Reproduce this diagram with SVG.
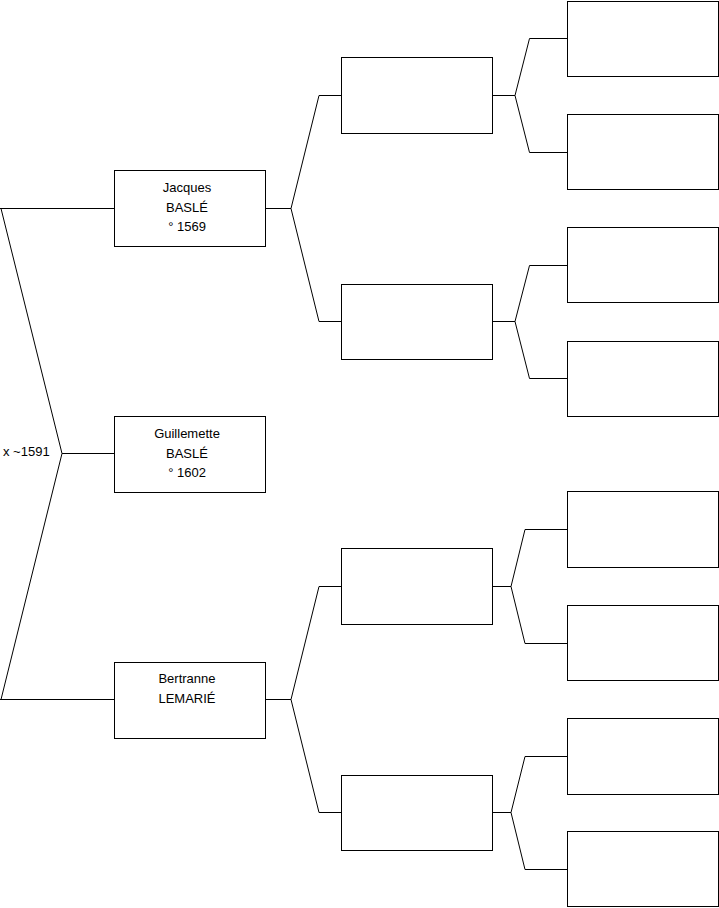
<svg xmlns="http://www.w3.org/2000/svg" width="719" height="908" viewBox="0 0 719 908">
<style>
.box{fill:#fff;stroke:#000;stroke-width:1}
.ln{fill:none;stroke:#000;stroke-width:1}
text{font-family:"Liberation Sans",Arial,sans-serif;font-size:13px;fill:#000;text-anchor:middle}
</style>
<rect width="719" height="908" fill="#fff"/>
<g id="connectors" class="ln">
<path d="M0,208.5H114.5M1,208.5L62,453.5L1,699.5M0,699.5H114.5M62,453.5H114.5"/>
<path d="M265.5,208.5H291M291,208.5L319,95.5H341.5M291,208.5L319,321.5H341.5"/>
<path d="M265.5,699.5H291M291,699.5L319,586.5H341.5M291,699.5L319,812.5H341.5"/>
<path d="M492.5,95.5H515M515,95.5L529.5,38.5H567.5M515,95.5L529.5,152.5H567.5"/>
<path d="M492.5,321.5H515M515,321.5L529.5,265.5H567.5M515,321.5L529.5,378.5H567.5"/>
<path d="M492.5,586.5H511M511,586.5L525,529.5H567.5M511,586.5L525,643.5H567.5"/>
<path d="M492.5,812.5H511M511,812.5L525,756.5H567.5M511,812.5L525,869.5H567.5"/>
</g>
<text x="3" y="456" style="text-anchor:start">x ~1591</text>
<g id="jacques"><rect class="box" x="114.5" y="170.5" width="151" height="76"/><text x="187" y="192">Jacques</text><text x="187" y="211.5">BASLÉ</text><text x="187" y="231">° 1569</text></g>
<g id="guillemette"><rect class="box" x="114.5" y="416.5" width="151" height="76"/><text x="187" y="438">Guillemette</text><text x="187" y="457.5">BASLÉ</text><text x="187" y="477">° 1602</text></g>
<g id="bertranne"><rect class="box" x="114.5" y="662.5" width="151" height="76"/><text x="187" y="683">Bertranne</text><text x="187" y="702.5">LEMARIÉ</text></g>
<g id="g2a"><rect class="box" x="341.5" y="57.5" width="151" height="76"/></g>
<g id="g2b"><rect class="box" x="341.5" y="284.5" width="151" height="75"/></g>
<g id="g2c"><rect class="box" x="341.5" y="548.5" width="151" height="76"/></g>
<g id="g2d"><rect class="box" x="341.5" y="775.5" width="151" height="75"/></g>
<g id="g3a"><rect class="box" x="567.5" y="1.5" width="151" height="75"/></g>
<g id="g3b"><rect class="box" x="567.5" y="114.5" width="151" height="75"/></g>
<g id="g3c"><rect class="box" x="567.5" y="227.5" width="151" height="75"/></g>
<g id="g3d"><rect class="box" x="567.5" y="341.5" width="151" height="75"/></g>
<g id="g3e"><rect class="box" x="567.5" y="491.5" width="151" height="76"/></g>
<g id="g3f"><rect class="box" x="567.5" y="605.5" width="151" height="75"/></g>
<g id="g3g"><rect class="box" x="567.5" y="718.5" width="151" height="76"/></g>
<g id="g3h"><rect class="box" x="567.5" y="831.5" width="151" height="75"/></g>
</svg>
